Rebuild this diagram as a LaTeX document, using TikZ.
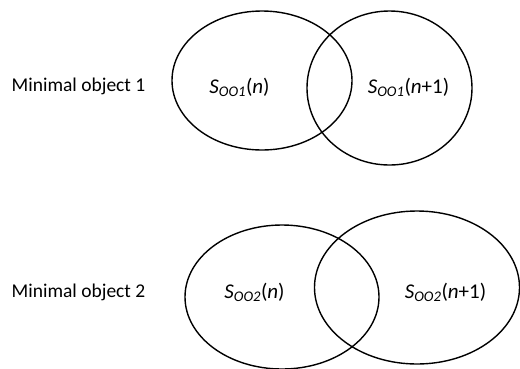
\documentclass[tikz,border=0pt]{standalone}
\usepackage{fontspec}
\setmainfont{Carlito}
\begin{document}
\begin{tikzpicture}[x=1pt,y=-1pt,
  setline/.style={draw=black,line width=1.4pt},
  lbl/.style={inner sep=0pt,font=\fontsize{19.5}{22}\selectfont},
  settext/.style={inner sep=0pt,font=\fontsize{21}{24}\selectfont}]
\useasboundingbox (0,0) rectangle (520,368);
\draw[setline] (262,80.5) ellipse [x radius=90,y radius=69.5];
\draw[setline] (389.5,88) ellipse [x radius=82.5,y radius=77];
\draw[setline] (282,297) ellipse [x radius=97,y radius=72];
\draw[setline] (417,287.5) ellipse [x radius=102.5,y radius=76.5];
\node[lbl,anchor=west] (m1) at (11.5,86) {Minimal object 1};
\node[lbl,anchor=west] (m2) at (11.5,292) {Minimal object 2};
\node[settext] (a) at (239.5,87) {\textit{S}\textsubscript{\itshape OO1}(\textit{n})};
\node[settext] (b) at (408.5,87) {\textit{S}\textsubscript{\itshape OO1}(\textit{n}+1)};
\node[settext] (c) at (254.5,292) {\textit{S}\textsubscript{\itshape OO2}(\textit{n})};
\node[settext] (d) at (445.5,292) {\textit{S}\textsubscript{\itshape OO2}(\textit{n}+1)};
\end{tikzpicture}
\end{document}
